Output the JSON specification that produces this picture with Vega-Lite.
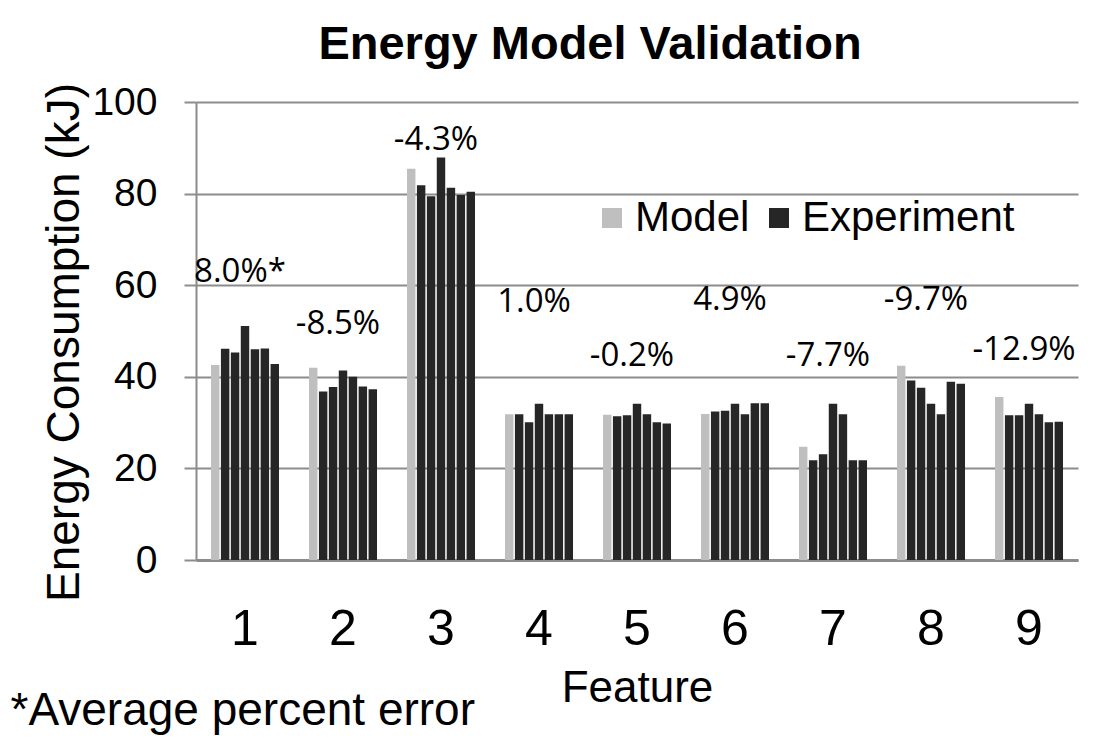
{
  "$schema": "https://vega.github.io/schema/vega-lite/v6.json",
  "width": 882,
  "height": 458,
  "autosize": {"type": "none"},
  "padding": {"left": 196, "top": 102, "right": 39, "bottom": 182},
  "background": "white",
  "config": {"view": {"stroke": null}, "font": "Liberation Sans"},
  "title": {
    "text": "Energy Model Validation",
    "font": "Liberation Sans",
    "fontSize": 47,
    "fontWeight": "bold",
    "color": "black",
    "anchor": "middle",
    "frame": "group",
    "dx": -47,
    "offset": 14
  },
  "datasets": {
    "bars": [
      {"feature": "1", "series": "M", "type": "Model", "kJ": 42.6},
      {"feature": "1", "series": "E1", "type": "Experiment", "kJ": 46.1},
      {"feature": "1", "series": "E2", "type": "Experiment", "kJ": 45.3},
      {"feature": "1", "series": "E3", "type": "Experiment", "kJ": 51.1},
      {"feature": "1", "series": "E4", "type": "Experiment", "kJ": 46.0},
      {"feature": "1", "series": "E5", "type": "Experiment", "kJ": 46.2},
      {"feature": "1", "series": "E6", "type": "Experiment", "kJ": 42.8},
      {"feature": "2", "series": "M", "type": "Model", "kJ": 42.0},
      {"feature": "2", "series": "E1", "type": "Experiment", "kJ": 36.8},
      {"feature": "2", "series": "E2", "type": "Experiment", "kJ": 37.8},
      {"feature": "2", "series": "E3", "type": "Experiment", "kJ": 41.4},
      {"feature": "2", "series": "E4", "type": "Experiment", "kJ": 40.0},
      {"feature": "2", "series": "E5", "type": "Experiment", "kJ": 37.9},
      {"feature": "2", "series": "E6", "type": "Experiment", "kJ": 37.3},
      {"feature": "3", "series": "M", "type": "Model", "kJ": 85.4},
      {"feature": "3", "series": "E1", "type": "Experiment", "kJ": 81.8},
      {"feature": "3", "series": "E2", "type": "Experiment", "kJ": 79.4},
      {"feature": "3", "series": "E3", "type": "Experiment", "kJ": 87.9},
      {"feature": "3", "series": "E4", "type": "Experiment", "kJ": 81.3},
      {"feature": "3", "series": "E5", "type": "Experiment", "kJ": 79.7},
      {"feature": "3", "series": "E6", "type": "Experiment", "kJ": 80.4},
      {"feature": "4", "series": "M", "type": "Model", "kJ": 31.8},
      {"feature": "4", "series": "E1", "type": "Experiment", "kJ": 31.8},
      {"feature": "4", "series": "E2", "type": "Experiment", "kJ": 30.1},
      {"feature": "4", "series": "E3", "type": "Experiment", "kJ": 34.1},
      {"feature": "4", "series": "E4", "type": "Experiment", "kJ": 31.8},
      {"feature": "4", "series": "E5", "type": "Experiment", "kJ": 31.8},
      {"feature": "4", "series": "E6", "type": "Experiment", "kJ": 31.8},
      {"feature": "5", "series": "M", "type": "Model", "kJ": 31.7},
      {"feature": "5", "series": "E1", "type": "Experiment", "kJ": 31.4},
      {"feature": "5", "series": "E2", "type": "Experiment", "kJ": 31.6},
      {"feature": "5", "series": "E3", "type": "Experiment", "kJ": 34.1},
      {"feature": "5", "series": "E4", "type": "Experiment", "kJ": 31.8},
      {"feature": "5", "series": "E5", "type": "Experiment", "kJ": 30.1},
      {"feature": "5", "series": "E6", "type": "Experiment", "kJ": 29.8},
      {"feature": "6", "series": "M", "type": "Model", "kJ": 31.9},
      {"feature": "6", "series": "E1", "type": "Experiment", "kJ": 32.4},
      {"feature": "6", "series": "E2", "type": "Experiment", "kJ": 32.6},
      {"feature": "6", "series": "E3", "type": "Experiment", "kJ": 34.1},
      {"feature": "6", "series": "E4", "type": "Experiment", "kJ": 31.8},
      {"feature": "6", "series": "E5", "type": "Experiment", "kJ": 34.2},
      {"feature": "6", "series": "E6", "type": "Experiment", "kJ": 34.2},
      {"feature": "7", "series": "M", "type": "Model", "kJ": 24.7},
      {"feature": "7", "series": "E1", "type": "Experiment", "kJ": 21.8},
      {"feature": "7", "series": "E2", "type": "Experiment", "kJ": 23.1},
      {"feature": "7", "series": "E3", "type": "Experiment", "kJ": 34.1},
      {"feature": "7", "series": "E4", "type": "Experiment", "kJ": 31.8},
      {"feature": "7", "series": "E5", "type": "Experiment", "kJ": 21.8},
      {"feature": "7", "series": "E6", "type": "Experiment", "kJ": 21.8},
      {"feature": "8", "series": "M", "type": "Model", "kJ": 42.4},
      {"feature": "8", "series": "E1", "type": "Experiment", "kJ": 39.2},
      {"feature": "8", "series": "E2", "type": "Experiment", "kJ": 37.6},
      {"feature": "8", "series": "E3", "type": "Experiment", "kJ": 34.1},
      {"feature": "8", "series": "E4", "type": "Experiment", "kJ": 31.8},
      {"feature": "8", "series": "E5", "type": "Experiment", "kJ": 38.9},
      {"feature": "8", "series": "E6", "type": "Experiment", "kJ": 38.5},
      {"feature": "9", "series": "M", "type": "Model", "kJ": 35.6},
      {"feature": "9", "series": "E1", "type": "Experiment", "kJ": 31.6},
      {"feature": "9", "series": "E2", "type": "Experiment", "kJ": 31.6},
      {"feature": "9", "series": "E3", "type": "Experiment", "kJ": 34.1},
      {"feature": "9", "series": "E4", "type": "Experiment", "kJ": 31.8},
      {"feature": "9", "series": "E5", "type": "Experiment", "kJ": 30.1},
      {"feature": "9", "series": "E6", "type": "Experiment", "kJ": 30.2}
    ],
    "labels": [
      {"feature": "1", "label": "8.0%*", "labelAt": 62.9},
      {"feature": "2", "label": "-8.5%", "labelAt": 51.5},
      {"feature": "3", "label": "-4.3%", "labelAt": 91.7},
      {"feature": "4", "label": "1.0%", "labelAt": 56.4},
      {"feature": "5", "label": "-0.2%", "labelAt": 44.5},
      {"feature": "6", "label": "4.9%", "labelAt": 56.8},
      {"feature": "7", "label": "-7.7%", "labelAt": 44.5},
      {"feature": "8", "label": "-9.7%", "labelAt": 56.8},
      {"feature": "9", "label": "-12.9%", "labelAt": 45.9}
    ]
  },
  "layer": [
    {
      "data": {"name": "bars"},
      "mark": {"type": "bar"},
      "encoding": {
        "x": {
          "field": "feature",
          "type": "ordinal",
          "title": "Feature",
          "scale": {"paddingInner": 0.306, "paddingOuter": 0.153},
          "axis": {
            "labelAngle": 0,
            "ticks": false,
            "grid": false,
            "domainColor": "#8c8c8c",
            "domainWidth": 3,
            "labelFont": "Liberation Sans",
            "labelFontSize": 50,
            "labelColor": "black",
            "labelPadding": 44,
            "titleFont": "Liberation Sans",
            "titleFontSize": 44,
            "titleFontWeight": "normal",
            "titleColor": "black",
            "titlePadding": 12
          }
        },
        "xOffset": {
          "field": "series",
          "type": "nominal",
          "sort": ["M", "E1", "E2", "E3", "E4", "E5", "E6"],
          "scale": {"paddingInner": 0.15, "paddingOuter": 0}
        },
        "y": {
          "field": "kJ",
          "type": "quantitative",
          "title": "Energy Consumption (kJ)",
          "scale": {"domain": [0, 100], "nice": false},
          "axis": {
            "values": [0, 20, 40, 60, 80, 100],
            "grid": true,
            "gridColor": "#8c8c8c",
            "gridWidth": 2,
            "domainColor": "#8c8c8c",
            "domainWidth": 2,
            "tickColor": "#8c8c8c",
            "tickWidth": 2,
            "tickSize": 12,
            "labelFont": "Liberation Sans",
            "labelFontSize": 39,
            "labelColor": "black",
            "labelPadding": 27,
            "titleFont": "Liberation Sans",
            "titleFontSize": 46,
            "titleFontWeight": "normal",
            "titleColor": "black",
            "titleY": 240,
            "titleX": -108
          }
        },
        "color": {
          "field": "type",
          "type": "nominal",
          "scale": {"domain": ["Model", "Experiment"], "range": ["#bfbfbf", "#262626"]},
          "legend": {
            "orient": "none",
            "legendX": 395,
            "legendY": 95,
            "padding": 0,
            "direction": "horizontal",
            "title": null,
            "symbolType": "square",
            "symbolSize": 400,
            "symbolStrokeWidth": 0,
            "labelFont": "Liberation Sans",
            "labelFontSize": 42,
            "labelColor": "black",
            "labelOffset": 2,
            "labelLimit": 0,
            "columnPadding": 8
          }
        }
      }
    },
    {
      "data": {"name": "labels"},
      "mark": {"type": "text", "font": "Open Sans", "fontSize": 33, "color": "black", "baseline": "middle", "dx": -5},
      "encoding": {
        "x": {
          "field": "feature",
          "type": "ordinal",
          "axis": {
            "orient": "bottom",
            "labels": false,
            "ticks": false,
            "domain": false,
            "grid": false,
            "title": "*Average percent error",
            "titleAnchor": "start",
            "titleAlign": "left",
            "titleBaseline": "top",
            "titleX": -186,
            "titleY": 128,
            "titleFont": "Liberation Sans",
            "titleFontSize": 46,
            "titleFontWeight": "normal",
            "titleColor": "black"
          }
        },
        "y": {"field": "labelAt", "type": "quantitative", "title": "Energy Consumption (kJ)", "scale": {"domain": [0, 100], "nice": false}},
        "text": {"field": "label"}
      }
    }
  ],
  "resolve": {"axis": {"x": "independent"}}
}
